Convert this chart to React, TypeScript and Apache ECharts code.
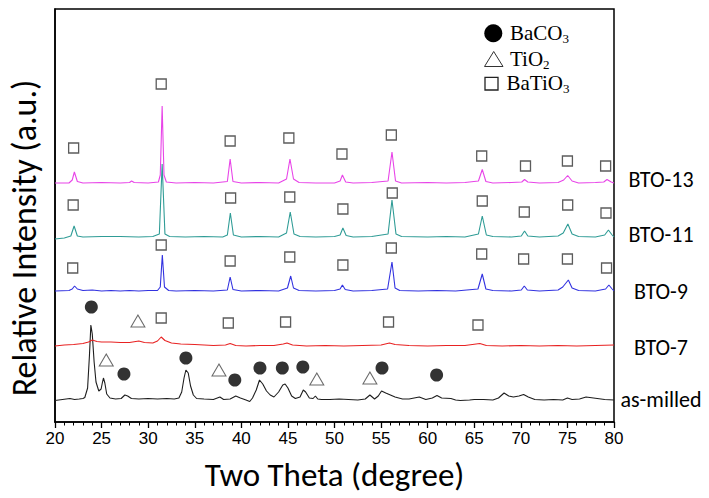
import React, { useEffect, useRef } from "react";
import * as echarts from "echarts";

// ---- Data (2θ in degrees, intensity in a.u. relative to each trace's own baseline) ----
const traceNames = ["as-milled", "BTO-7", "BTO-9", "BTO-11", "BTO-13"];
const traceColors = ["#1e1e1e", "#e82222", "#3232e0", "#2f9c96", "#e844e8"];
const traceOffsets = [22, 76, 131, 185, 239];

const asMilled: [number, number][] = [
  [20, -0.5], [20.8, 0.5], [21.6, 1.5], [22.1, 0.5], [22.6, 1], [23.0, 1.5], [23.2, 2.5], [23.5, 12], [23.7, 45], [23.85, 75],
  [24.0, 66], [24.2, 38], [24.4, 18], [24.7, 9], [24.95, 11], [25.1, 18], [25.2, 22], [25.35, 17], [25.55, 6],
  [25.9, 2], [26.5, 1], [27.1, 1.5], [27.5, 5], [27.8, 4], [28.2, 1.5], [29, 1], [30, 1.5], [31, 1], [32, 1.5],
  [32.8, 1], [33.3, 2], [33.6, 8], [33.85, 22], [34.05, 30], [34.3, 27], [34.55, 14], [34.85, 5], [35.2, 1.5],
  [36, 1], [37, 0.5], [37.7, 3], [38.1, 0.5], [38.8, 1], [39.4, 4], [39.9, 2], [40.5, 0], [40.9, -1.5],
  [41.2, 2], [41.6, 10], [41.95, 20], [42.3, 16], [42.7, 9], [43.1, 5], [43.5, 3], [44.0, 8], [44.45, 15],
  [44.7, 16], [45.0, 12], [45.4, 4], [45.8, 1.5], [46.3, 3], [46.65, 10], [46.9, 8], [47.3, 2], [47.7, 1.5],
  [47.95, 4], [48.2, 1], [48.6, 0.5], [49.5, 0.5], [50.5, 1], [51.5, 0.5], [52.5, 0], [53.3, 1], [53.8, 5],
  [54.3, 1], [54.7, 4], [55.05, 9], [55.5, 7], [56, 5], [56.5, 3], [57.3, 1], [58, 1], [59.1, 3], [59.8, 0.5],
  [60.5, 2], [61, 4.5], [61.5, 2], [62.5, 1.5], [63, 0], [63.5, -0.5], [64.5, 0], [65, 0.5], [66, 0.5],
  [67, 0], [67.6, 2], [68.2, 7], [68.7, 4], [69.2, 3], [69.8, 4], [70.3, 5.5], [70.8, 3], [71.5, 0.5],
  [72.5, 0], [73.5, 0.5], [74.5, 0], [75.0, 2], [75.5, 0.5], [76.3, 1], [77, 3], [77.8, 2], [79, 0.5], [80, 0],
];

const bto7: [number, number][] = [
  [20, 0], [21, 1], [22, 1.5], [23, 2.5], [23.6, 4], [24.0, 6], [24.5, 4.5], [25, 4], [26, 4], [27, 3.5],
  [28, 3.5], [29, 5], [29.6, 3.5], [30.5, 3], [31.0, 5], [31.4, 9], [31.8, 5.5], [32.5, 3], [33.5, 2],
  [35, 1.5], [36, 1], [37, 0.5], [38.3, 1], [38.8, 2.5], [39.4, 0.5], [40.5, 0], [42, 0.5], [43.5, 0.5],
  [44.5, 2], [44.9, 3], [45.5, 1], [47, 0], [49, 0.5], [51, 0], [53, 0.5], [55, 1], [55.9, 3], [56.5, 1.5],
  [58, 0.5], [60, 0], [62, 0.5], [64, 0.5], [65.6, 2.5], [66.3, 0.5], [68, 0], [70, 0.5], [72, 0],
  [74, 0.5], [76, 0], [78, 0.5], [80, 1],
];

const bto9: [number, number][] = [
  [20, 0], [21.5, 0.5], [21.85, 2], [22.1, 5], [22.4, 2], [23, 0.5], [24, 1], [25, 0], [26, 0.5], [27, 0],
  [28, 0.5], [29, 0], [30, 0.5], [31, 0.5], [31.3, 4], [31.52, 36], [31.75, 4], [32.2, 0.5], [33, 0],
  [35, 0.5], [37, 0], [38.5, 1], [38.8, 14], [39.1, 1.5], [40, 0], [42, 0.5], [44, 0], [44.95, 3],
  [45.3, 15], [45.6, 3], [46.2, 0.5], [48, 0], [50, 0.5], [50.6, 2], [50.85, 6], [51.15, 1.5], [52, 0],
  [54, 0.5], [55.7, 2], [56.17, 29], [56.5, 3], [57, 0.5], [59, 0], [61, 0.5], [63, 0], [65.4, 2],
  [65.86, 17], [66.25, 2], [67, 0.5], [69, 0], [70.05, 1], [70.37, 5], [70.7, 1], [72, 0], [74, 1],
  [74.5, 4], [75.1, 11], [75.5, 3], [76.2, 0.5], [78, 0], [79.1, 2], [79.45, 6], [79.8, 2], [80, 0],
];

const bto11: [number, number][] = [
  [20, -2], [21, -1], [21.7, 1], [22.05, 11], [22.4, 1], [23, 0], [25, 0.5], [27, 0.5], [29, 0], [30.5, 0.5],
  [31.2, 3], [31.5, 73], [31.8, 3], [32.3, 0.5], [34, 0], [36, 0.5], [38, 0], [38.5, 2], [38.82, 24],
  [39.15, 2], [40, 0], [42, 0.5], [44, 0], [44.85, 4], [45.25, 25], [45.65, 3], [46.3, 0.5], [48, 0],
  [50, 0.5], [50.6, 2], [50.9, 9], [51.25, 1.5], [52, 0], [54, 0.5], [55.75, 3], [56.17, 37], [56.6, 3],
  [57.2, 0.5], [60, 0], [62, 0.5], [64, 0], [65.45, 3], [65.86, 21], [66.3, 2], [67, 0.5], [69, 0],
  [70.05, 1], [70.4, 6], [70.75, 1], [72, 0], [74, 1], [74.55, 4], [75.05, 13], [75.5, 3], [76.2, 0.5],
  [78, 0], [79, 2], [79.4, 7], [79.8, 2], [80, 0],
];

const bto13: [number, number][] = [
  [20, 0], [21.5, 0], [21.85, 3], [22.08, 11], [22.4, 1.5], [23, 0], [25, 0.5], [27, 0], [28.0, 0.5],
  [28.22, 2], [28.5, 0.5], [30, 0], [31.1, 1], [31.3, 8], [31.5, 77], [31.7, 8], [31.95, 1], [33, 0],
  [35, 0.5], [37, 0], [38.5, 1.5], [38.8, 24], [39.1, 1.5], [40, 0], [42, 0.5], [44, 0], [44.85, 4],
  [45.22, 24], [45.6, 4], [46.2, 0.5], [48, 0], [50, 0], [50.6, 2], [50.85, 8], [51.2, 1], [52, 0],
  [54, 0.5], [55.75, 2], [56.17, 31], [56.55, 2], [57.2, 0], [60, 0.5], [62, 0], [64, 0.5], [65.45, 2],
  [65.86, 13.5], [66.25, 1.5], [67, 0], [69, 0.5], [70.1, 1], [70.4, 3.5], [70.75, 1], [72, 0], [74, 0.5],
  [74.6, 3], [75.03, 7.5], [75.5, 2], [76.2, 0], [78, 0.5], [78.9, 1], [79.25, 3.5], [79.7, 1], [80, 0],
];

const traces = [asMilled, bto7, bto9, bto11, bto13];

// Phase markers (2θ, absolute stacked intensity)
const baco3Marks: [number, number][] = [
  [23.9, 115], [27.4, 48], [34.05, 64], [39.3, 42], [42.0, 54], [44.4, 54], [46.6, 55], [55.1, 54], [60.96, 47],
];
const tio2Marks: [number, number][] = [
  [28.9, 101], [25.5, 62], [37.6, 52], [48.1, 43], [53.8, 44],
];
const batio3Marks: [number, number][] = [
  // BTO-13
  [22.0, 274], [31.4, 338], [38.8, 281], [45.1, 284], [50.8, 268], [56.1, 287], [65.8, 266], [70.5, 256], [75.0, 261], [79.1, 256],
  // BTO-11
  [21.95, 217], [38.85, 224], [45.2, 225], [50.9, 213], [56.2, 229], [65.86, 221], [70.37, 210], [75.03, 217], [79.14, 209],
  // BTO-9
  [21.9, 154], [31.4, 177], [38.8, 161], [45.2, 165], [50.9, 157], [56.1, 174], [65.8, 168], [70.3, 163], [75.0, 163], [79.2, 154],
  // BTO-7
  [31.4, 104], [38.6, 99], [44.75, 100], [55.8, 100], [65.4, 97],
];

const legendNames = ["{n|BaCO}{s|3}", "{n|TiO}{s|2}", "{n|BaTiO}{s|3}"];
const xTitle = "Two Theta (degree)";
const yTitle = "Relative Intensity (a.u.)";

const sansFont = "Carlito, Lato, 'Open Sans', sans-serif";
const tickFont = "'Liberation Sans Narrow', 'Arial Narrow', 'Liberation Sans', Arial, sans-serif";
const serifFont = "'Liberation Serif', 'Times New Roman', serif";

export default function App() {
  const ref = useRef<HTMLDivElement>(null);
  useEffect(() => {
    if (!ref.current) return;
    const chart = echarts.init(ref.current, undefined, { renderer: "svg" });

    const lineSeries = traces.map((tr, i) => ({
      name: traceNames[i],
      type: "line",
      data: tr.map(([x, y]) => [x, y + traceOffsets[i]]),
      showSymbol: false,
      symbol: "none",
      lineStyle: { color: traceColors[i], width: 1.1 },
      itemStyle: { color: traceColors[i] },
      z: 2,
      silent: true,
    }));

    const labelY = [399, 347, 291, 234, 179];
    const labelGraphics = traceNames.map((n, i) => ({
      type: "text",
      x: 661,
      y: labelY[i],
      style: {
        text: n,
        font: `22px ${sansFont}`,
        fill: "#000",
        textAlign: "center",
        textVerticalAlign: "middle",
      },
    }));

    const rich = {
      n: { fontFamily: serifFont, fontSize: 21, lineHeight: 23, fill: "#000", color: "#000" },
      s: { fontFamily: serifFont, fontSize: 13, lineHeight: 11, verticalAlign: "bottom", fill: "#000", color: "#000" },
    };
    const legendY = [33.3, 59, 83];
    const legendX = [510, 510, 506.5];

    const option: any = {
      animation: false,
      backgroundColor: "#fff",
      grid: { left: 55, right: 95, top: 9, bottom: 76, show: true, borderColor: "#000", borderWidth: 1.5 },
      xAxis: {
        type: "value",
        min: 20,
        max: 80,
        interval: 5,
        name: xTitle,
        nameLocation: "middle",
        nameGap: 36,
        nameTextStyle: { fontFamily: sansFont, fontSize: 33, color: "#000" },
        axisLine: { show: true, lineStyle: { color: "#000", width: 1.5 } },
        axisTick: { show: true, length: 6, inside: false, lineStyle: { color: "#000", width: 1.3 } },
        minorTick: { show: true, splitNumber: 5, length: 3.5, lineStyle: { color: "#000", width: 1 } },
        axisLabel: { fontFamily: tickFont, fontSize: 17, color: "#000", margin: 8 },
        splitLine: { show: false },
      },
      yAxis: {
        type: "value",
        min: 0,
        max: 413,
        axisLine: { show: true, lineStyle: { color: "#000", width: 1.5 } },
        axisTick: { show: false },
        axisLabel: { show: false },
        splitLine: { show: false },
      },
      series: [
        ...lineSeries,
        {
          name: "BaCO3",
          type: "scatter",
          data: baco3Marks,
          symbol: "circle",
          symbolSize: 13,
          itemStyle: { color: "#000" },
          z: 5,
        },
        {
          name: "TiO2",
          type: "scatter",
          data: tio2Marks,
          symbol: "triangle",
          symbolSize: [14, 12],
          itemStyle: { color: "#fff", borderColor: "#444", borderWidth: 1 },
          z: 5,
        },
        {
          name: "BaTiO3",
          type: "scatter",
          data: batio3Marks,
          symbol: "rect",
          symbolSize: 10,
          itemStyle: { color: "rgba(255,255,255,0)", borderColor: "#333", borderWidth: 1.3 },
          z: 5,
        },
      ],
      graphic: [
        ...labelGraphics,
        {
          type: "text",
          x: 24,
          y: 238,
          rotation: Math.PI / 2,
          style: {
            text: yTitle,
            font: `34px ${sansFont}`,
            fill: "#000",
            textAlign: "center",
            textVerticalAlign: "middle",
          },
        },
        { type: "circle", shape: { cx: 493.3, cy: 33.3, r: 9 }, style: { fill: "#000" } },
        {
          type: "polygon",
          shape: { points: [[484.5, 66.5], [503, 66.5], [493.7, 51.5]] },
          style: { fill: "#fff", stroke: "#333", lineWidth: 1 },
        },
        { type: "rect", shape: { x: 485, y: 77.3, width: 13, height: 12.7 }, style: { fill: "none", stroke: "#222", lineWidth: 1.3 } },
        ...legendNames.map((t, i) => ({
          type: "text",
          x: legendX[i],
          y: legendY[i],
          style: { text: t, rich, textAlign: "left", textVerticalAlign: "middle", fill: "#000" },
        })),
      ],
    };
    chart.setOption(option);
    return () => chart.dispose();
  }, []);
  return <div ref={ref} style={{ position: "fixed", left: 0, top: 0, width: 709, height: 498 }} />;
}
